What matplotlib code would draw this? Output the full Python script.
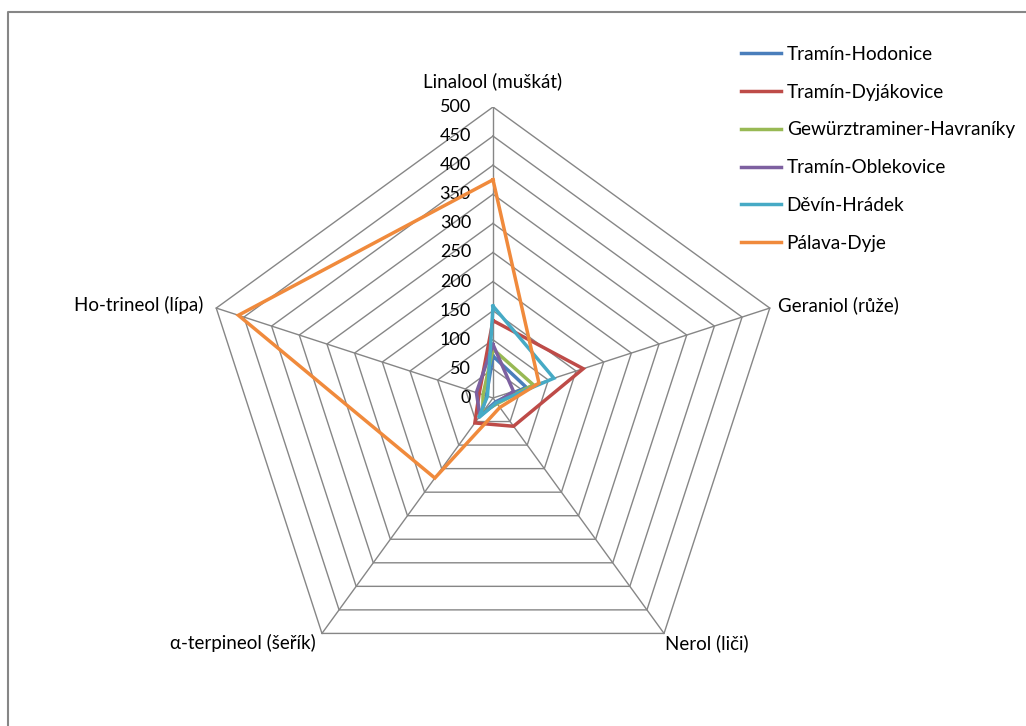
import numpy as np
import matplotlib.pyplot as plt
from matplotlib.lines import Line2D

plt.rcParams['font.family'] = ['Lato', 'DejaVu Sans']

categories = ['Linalool (muškát)', 'Geraniol (růže)', 'Nerol (liči)',
              'α-terpineol (šeřík)', 'Ho-trineol (lípa)']
series_names = ['Tramín-Hodonice', 'Tramín-Dyjákovice', 'Gewürztraminer-Havraníky',
                'Tramín-Oblekovice', 'Děvín-Hrádek', 'Pálava-Dyje']
hodonice = [72, 60, 8, 35, 12]
dyjakovice = [133, 163, 60, 53, 25]
havraniky = [84, 73, 12, 30, 18]
oblekovice = [92, 37, 10, 38, 30]
devin = [158, 110, 10, 42, 10]
palava = [375, 83, 20, 170, 460]
ticks = [0, 50, 100, 150, 200, 250, 300, 350, 400, 450, 500]

series = [hodonice, dyjakovice, havraniky, oblekovice, devin, palava]
colors = ['#4A7EBB', '#BE4B48', '#98B954', '#7D60A0', '#46AAC5', '#F08A3C']

W, H = 1026, 726
fig = plt.figure(figsize=(W / 100, H / 100), dpi=100)

# chart frame (only the left and top edges fall inside the image)
fig.add_artist(Line2D([8 / W, 8 / W, 1.0], [0, 1 - 12 / H, 1 - 12 / H],
                      transform=fig.transFigure, color='#868686', lw=1.5))

cx, cy, R = 493, 398, 291
ax = fig.add_axes([(cx - R) / W, (H - cy - R) / H, 2 * R / W, 2 * R / H])
ax.set_xlim(-500, 500)
ax.set_ylim(-500, 500)
ax.set_aspect('equal')
ax.axis('off')
px = 500 / R  # data units per pixel

n = len(categories)
ang = np.deg2rad(90 - 72 * np.arange(n))
ca, sa = np.cos(ang), np.sin(ang)


def closed(r):
    r = np.append(np.asarray(r, dtype=float), r[0])
    return r * np.append(ca, ca[0]), r * np.append(sa, sa[0])


# polygon grid rings and spokes
for t in ticks[1:]:
    ax.plot(*closed([t] * n), color='#868686', lw=1.0, zorder=1)
for k in range(n):
    ax.plot([0, 500 * ca[k]], [0, 500 * sa[k]], color='#868686', lw=1.0, zorder=1)

for t in ticks:
    ax.text(-22 * px, t, str(t), ha='right', va='center', fontsize=13, color='black')

for name, vals, c in zip(series_names, series, colors):
    ax.plot(*closed(vals), color=c, lw=2.5, solid_joinstyle='miter',
            label=name, zorder=3)

# category labels around the outer ring
lab_pos = [(0, 500 + 26 * px, 'center'),
           (500 * ca[1] + 8 * px, 500 * sa[1] + 3 * px, 'left'),
           (500 * ca[2] + 1 * px, 500 * sa[2] - 10 * px, 'left'),
           (500 * ca[3] - 6 * px, 500 * sa[3] - 10 * px, 'right'),
           (500 * ca[4] - 13 * px, 500 * sa[4] + 3 * px, 'right')]
for lab, (x, y, ha) in zip(categories, lab_pos):
    ax.text(x, y, lab, ha=ha, va='center', fontsize=13.5, color='black')

fig.legend(loc='upper left', bbox_to_anchor=(741 / W, 1 - 46 / H),
           frameon=False, fontsize=13.7, handlelength=2.1, handletextpad=0.3,
           labelspacing=1.09, borderpad=0, borderaxespad=0)

fig.savefig('out.png', dpi=100, facecolor='white')
